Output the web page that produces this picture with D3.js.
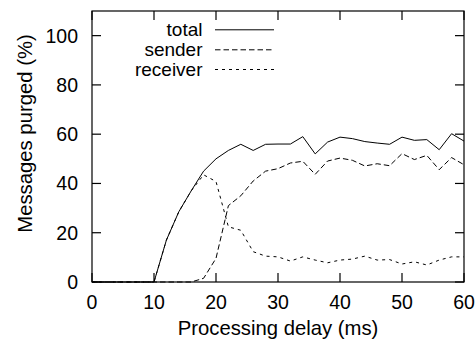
<!DOCTYPE html>
<html><head><meta charset="utf-8">
<script src="https://cdn.jsdelivr.net/npm/d3@7"></script>
<style>body{margin:0;background:#fff}svg{display:block}text{font-family:"Liberation Sans",Arial,sans-serif;fill:#000}</style>
</head><body>
<svg id="c" width="475" height="347"></svg>
<script>
const delays = [0,2,4,6,8,10,12,14,16,18,20,22,24,26,28,30,32,34,36,38,40,42,44,46,48,50,52,54,56,58,60];
const total = [0,0,0,0,0,0,17,28.5,37,45,50,53.4,55.9,53.4,55.9,56,56,59,52,56.8,58.8,58.2,57,56.4,55.9,58.8,57.5,57.8,53.7,60.2,57.2];
const sender = [0,0,0,0,0,0,0,0,0,1.5,9.6,31,35,41,45,46,48.3,49,43.7,49.1,50.3,49.4,47.1,48,47.2,52.1,49.7,51.4,45.6,50.5,47.6];
const receiver = [0,0,0,0,0,0,17,28.5,37,43.5,40.8,22.4,21,12.3,10.5,10.2,8.5,10.2,8.9,7.8,8.9,9.3,10.5,8.9,9.1,7.3,8.2,6.9,8.9,10.2,10.2];
const seriesNames = ["total","sender","receiver"];
const xTicks = [0,10,20,30,40,50,60];
const yTicks = [0,20,40,60,80,100];

const svg = d3.select("#c");
const L=92,R=464,T=11,B=282;
const x = d3.scaleLinear().domain([0,60]).range([L,R]);
const y = d3.scaleLinear().domain([0,110]).range([B,T]);
const dashes = {total:null, sender:"5.5,3", receiver:"3,4"};
const data = {total, sender, receiver};

// frame
svg.append("rect").attr("x",L).attr("y",T).attr("width",R-L).attr("height",B-T)
  .attr("fill","none").attr("stroke","#000").attr("stroke-width",1.2);

const tl = 9;
const g = svg.append("g").attr("stroke","#000").attr("stroke-width",1.2);
xTicks.forEach(v=>{
  g.append("line").attr("x1",x(v)).attr("x2",x(v)).attr("y1",B).attr("y2",B-tl);
  g.append("line").attr("x1",x(v)).attr("x2",x(v)).attr("y1",T).attr("y2",T+tl);
});
yTicks.forEach(v=>{
  g.append("line").attr("x1",L).attr("x2",L+tl).attr("y1",y(v)).attr("y2",y(v));
  g.append("line").attr("x1",R).attr("x2",R-tl).attr("y1",y(v)).attr("y2",y(v));
});
svg.selectAll(".xt").data(xTicks).enter().append("text")
  .attr("x",d=>x(d)).attr("y",309).attr("text-anchor","middle").attr("font-size",19.5).text(d=>d);
svg.selectAll(".yt").data(yTicks).enter().append("text")
  .attr("x",78).attr("y",d=>y(d)+7).attr("text-anchor","end").attr("font-size",19.5).text(d=>d);

svg.append("text").attr("x",278).attr("y",335).attr("text-anchor","middle").attr("font-size",20.3)
  .text("Processing delay (ms)");
svg.append("text").attr("transform","translate(31.5,133.5) rotate(-90)").attr("text-anchor","middle")
  .attr("font-size",20.3).text("Messages purged (%)");

const line = d3.line().x((d,i)=>x(delays[i])).y(d=>y(d));
seriesNames.forEach(n=>{
  svg.append("path").datum(data[n]).attr("d",line).attr("fill","none")
    .attr("stroke","#000").attr("stroke-width",1).attr("stroke-dasharray",dashes[n]);
});

// legend
const legY = [36.3,56.3,76];
seriesNames.forEach((n,i)=>{
  svg.append("text").attr("x",202.5).attr("y",legY[i]).attr("text-anchor","end").attr("font-size",19).text(n);
  svg.append("line").attr("x1",215).attr("x2",274).attr("y1",legY[i]-6.5).attr("y2",legY[i]-6.5)
    .attr("stroke","#000").attr("stroke-width",1).attr("stroke-dasharray",dashes[n]);
});
</script>
</body></html>
